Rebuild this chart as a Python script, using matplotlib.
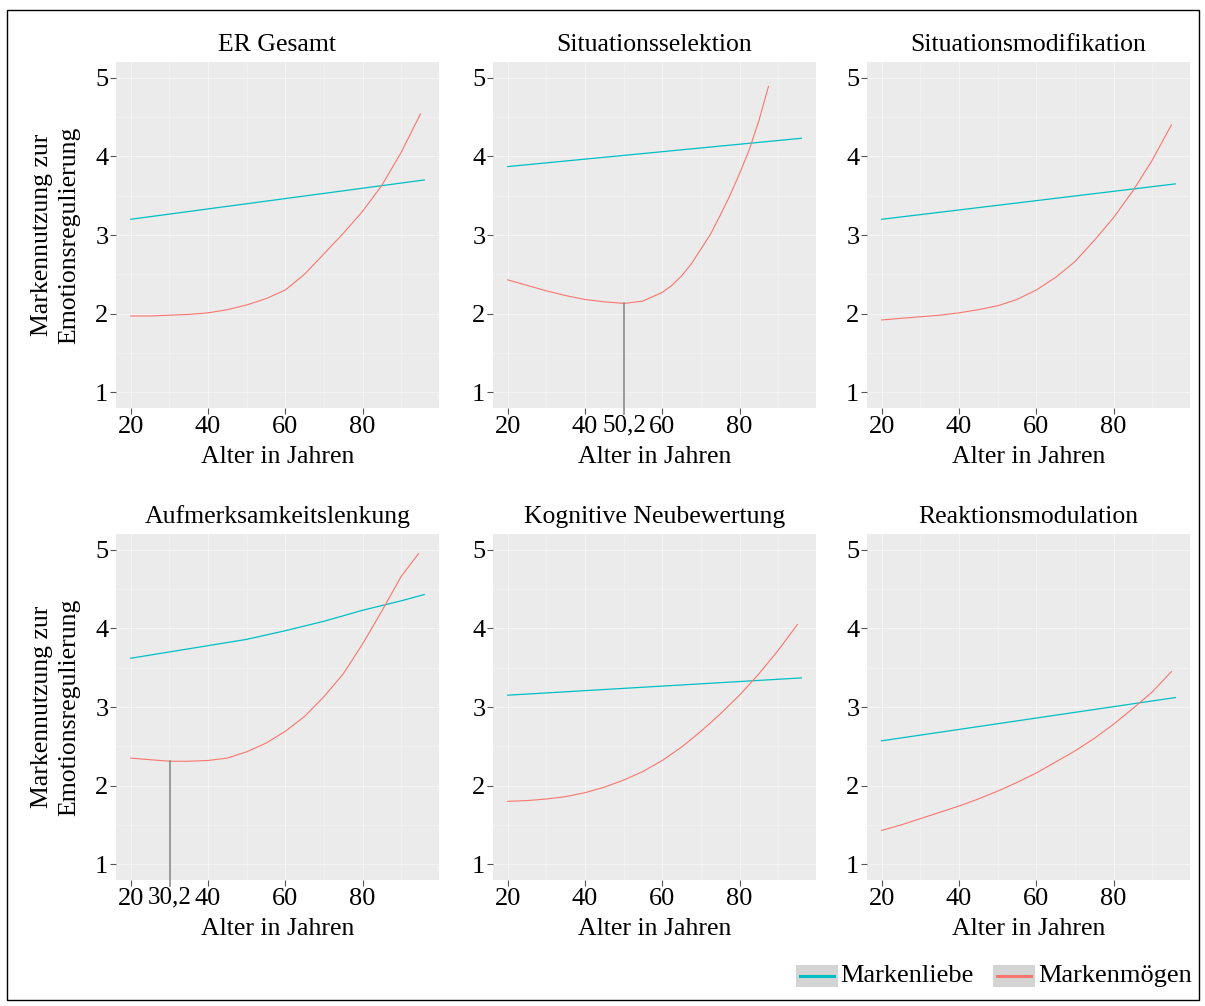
import matplotlib
matplotlib.use('Agg')
import matplotlib.pyplot as plt
from matplotlib.patches import Rectangle
from matplotlib.lines import Line2D
from matplotlib.ticker import MultipleLocator

plt.rcParams['font.family'] = ['Liberation Serif', 'DejaVu Serif']

# ---- data ----
titles = ['ER Gesamt', 'Situationsselektion', 'Situationsmodifikation',
          'Aufmerksamkeitslenkung', 'Kognitive Neubewertung', 'Reaktionsmodulation']

age5 = [20, 25, 30, 35, 40, 45, 50, 55, 60, 65, 70, 75, 80, 85, 90, 95]
age_lin = [20, 96]

# Markenliebe (blue)
liebe_age = [age_lin, age_lin, age_lin,
             [20, 30, 40, 50, 60, 70, 80, 90, 96],
             age_lin, age_lin]
liebe_val = [
    [3.20, 3.70],
    [3.87, 4.23],
    [3.20, 3.65],
    [3.62, 3.70, 3.78, 3.86, 3.97, 4.09, 4.23, 4.35, 4.43],
    [3.15, 3.37],
    [2.57, 3.12],
]

# Markenmoegen (red)
moegen_age = [
    age5,
    [20, 25, 30, 35, 40, 45, 50.2, 55, 60, 62.5, 65, 67.5, 70, 72.5, 75,
     77.5, 80, 82.5, 85, 87.5],
    age5,
    [20, 25, 30.2, 35, 40, 45, 50, 55, 60, 65, 70, 75, 80, 85, 90, 94.5],
    age5,
    age5,
]
moegen_val = [
    [1.97, 1.97, 1.98, 1.99, 2.01, 2.05, 2.11, 2.19, 2.30, 2.50, 2.76, 3.02, 3.30, 3.63, 4.05, 4.54],
    [2.43, 2.36, 2.29, 2.23, 2.18, 2.15, 2.13, 2.16, 2.27, 2.36, 2.48, 2.63, 2.82, 3.01, 3.25,
     3.50, 3.78, 4.08, 4.45, 4.89],
    [1.92, 1.94, 1.96, 1.98, 2.01, 2.05, 2.10, 2.18, 2.30, 2.46, 2.66, 2.93, 3.22, 3.56, 3.95, 4.40],
    [2.35, 2.33, 2.31, 2.31, 2.32, 2.35, 2.43, 2.54, 2.69, 2.88, 3.13, 3.42, 3.80, 4.22, 4.66, 4.95],
    [1.80, 1.81, 1.83, 1.86, 1.91, 1.98, 2.07, 2.18, 2.32, 2.49, 2.69, 2.91, 3.15, 3.42, 3.72, 4.05],
    [1.43, 1.50, 1.58, 1.66, 1.74, 1.83, 1.93, 2.04, 2.16, 2.30, 2.44, 2.60, 2.78, 2.98, 3.19, 3.45],
]

# minimum of the red curve (marked with a vertical line)
min_age = [None, 50.2, None, 30.2, None, None]
min_val = [None, 2.13, None, 2.31, None, None]

x_ticks = [20, 40, 60, 80]
y_ticks = [1, 2, 3, 4, 5]
series_names = ['Markenliebe', 'Markenmögen']
c_liebe = '#00BFC4'
c_moegen = '#F8766D'

W, H = 1205, 1006
fig = plt.figure(figsize=(W / 100, H / 100), dpi=100)

lefts = [116, 493, 867]
tops = [62, 534]
pw, ph = 323, 346

for i in range(6):
    r, c = divmod(i, 3)
    ax = fig.add_axes([lefts[c] / W, 1 - (tops[r] + ph) / H, pw / W, ph / H])
    ax.set_facecolor('#EBEBEB')
    for s in ax.spines.values():
        s.set_visible(False)
    ax.set_xlim(16.2, 99.8)
    ax.set_ylim(0.8, 5.2)
    ax.set_xticks(x_ticks)
    ax.set_yticks(y_ticks)
    ax.xaxis.set_minor_locator(MultipleLocator(10))
    ax.yaxis.set_minor_locator(MultipleLocator(0.5))
    ax.grid(which='major', color='white', lw=0.8, alpha=0.55)
    ax.grid(which='minor', color='white', lw=0.45, alpha=0.45)
    ax.set_axisbelow(True)
    ax.tick_params(which='minor', length=0)
    ax.tick_params(which='major', length=4, width=0.8, color='#555555',
                   labelsize=19, pad=1.5, labelcolor='black')

    ax.plot(liebe_age[i], liebe_val[i], color=c_liebe, lw=0.9)
    ax.plot(moegen_age[i], moegen_val[i], color=c_moegen, lw=0.8)

    if min_age[i] is not None:
        ylo = ax.get_ylim()[0]
        ax.plot([min_age[i], min_age[i]], [ylo - 0.08, min_val[i]],
                color='#8C8C8C', lw=1.2, clip_on=False)
        ax.annotate(f'{min_age[i]:.1f}'.replace('.', ','), xy=(min_age[i], 0),
                    xycoords=('data', 'axes fraction'), xytext=(0, -4.5),
                    textcoords='offset points', ha='center', va='top',
                    fontsize=18)

    ax.set_title(titles[i], fontsize=18.5, pad=8)
    ax.set_xlabel('Alter in Jahren', fontsize=18.5, labelpad=6)
    if c == 0:
        ax.set_ylabel('Markennutzung zur\nEmotionsregulierung', fontsize=18.5,
                      labelpad=11, linespacing=1.3)

# legend drawn by hand (grey key boxes like ggplot)
key_x = [796, 993]
text_x = [840, 1038]
ky, kh, kw = 965, 22, 42
for kx, tx, name, col in zip(key_x, text_x, series_names, [c_liebe, c_moegen]):
    fig.add_artist(Rectangle((kx / W, 1 - (ky + kh) / H), kw / W, kh / H,
                             transform=fig.transFigure, fc='#D4D4D4', ec='none'))
    fig.add_artist(Line2D([(kx + 4) / W, (kx + kw - 4) / W],
                          [1 - (ky + kh / 2) / H] * 2,
                          transform=fig.transFigure, color=col, lw=2.2))
    fig.text(tx / W, 1 - (ky + kh / 2) / H, name, fontsize=19,
             va='center', ha='left')

# outer frame
fig.add_artist(Rectangle((7 / W, 1 - 1000 / H), (1199 - 7) / W, (1000 - 10) / H,
                         transform=fig.transFigure, fill=False, ec='black', lw=1))

fig.savefig('out.png', dpi=100)
